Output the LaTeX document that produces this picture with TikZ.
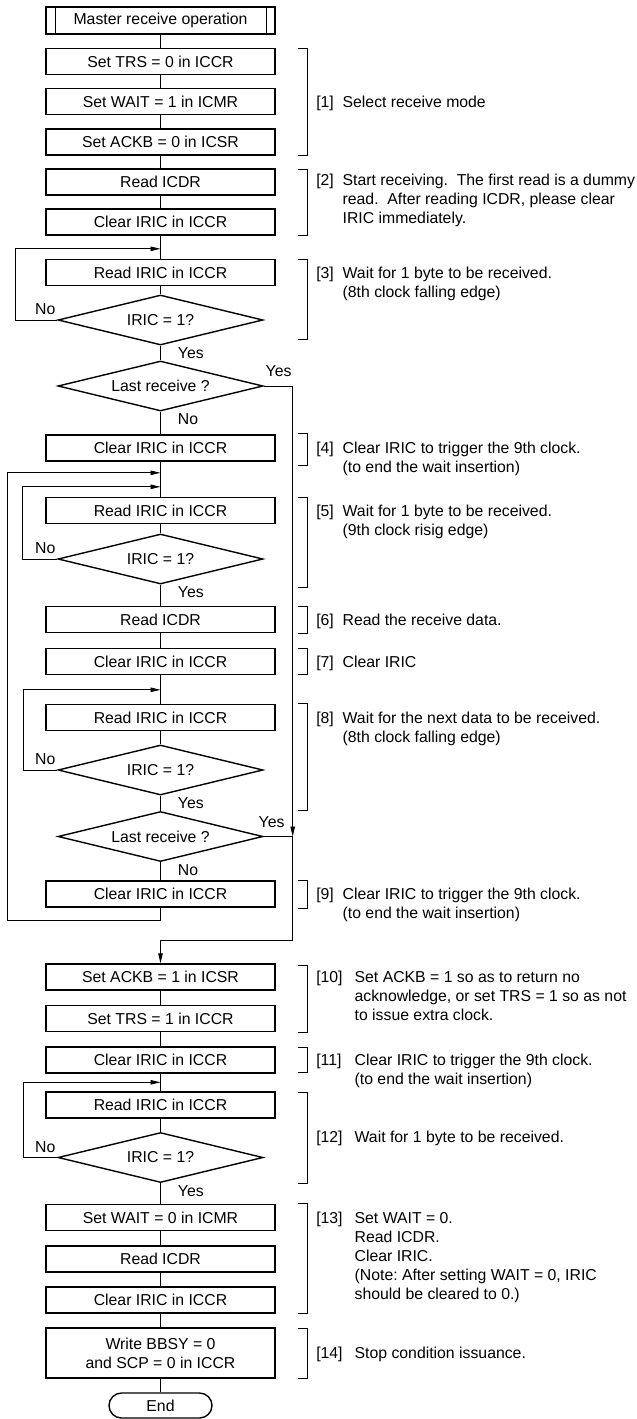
\documentclass[tikz,border=0pt]{standalone}
\usepackage{fontspec}
\setmainfont{Liberation Sans}
\usetikzlibrary{shapes.geometric,positioning,arrows.meta}

\newcommand{\steptxt}[3][26.4pt]{\makebox[#1][l]{#2}\begin{tabular}[t]{@{}l@{}}#3\end{tabular}}

\begin{document}
\begin{tikzpicture}[x=1pt,y=-1pt,on grid,
    font=\fontsize{15.8}{19}\selectfont\frenchspacing,
    >={Triangle[length=10pt,width=4.5pt]},line width=0.9pt,
    proc/.style={draw,rectangle,line width=1.4pt,minimum width=229pt,minimum height=26pt,inner sep=0pt},
    hdr/.style={proc,minimum height=27pt,
      path picture={\draw[line width=1pt]
        ([xshift=9pt]path picture bounding box.north west) -- ([xshift=9pt]path picture bounding box.south west)
        ([xshift=-9pt]path picture bounding box.north east) -- ([xshift=-9pt]path picture bounding box.south east);}},
    dec/.style={draw,diamond,aspect=4.1,line width=1.4pt,minimum width=205pt,minimum height=50pt,inner sep=0pt},
    term/.style={draw,rectangle,rounded corners=12.5pt,line width=1.4pt,minimum width=103pt,minimum height=25pt,inner sep=0pt},
    note/.style={anchor=base west,inner sep=0pt},
    lbl/.style={inner sep=1.5pt},
    brk/.style={line width=0.9pt}]
    \useasboundingbox (0,0) rectangle (637,1419);

    % main column
    \node[hdr]  (hdr)     at (160.5,20.5)           {Master receive operation};
    \node[proc] (trs0)    [below=41pt of hdr]       {Set TRS = 0 in ICCR};
    \node[proc] (wait1)   [below=40pt of trs0]      {Set WAIT = 1 in ICMR};
    \node[proc] (ackb0)   [below=40.5pt of wait1]   {Set ACKB = 0 in ICSR};
    \node[proc] (rd1)     [below=40pt of ackb0]     {Read ICDR};
    \node[proc] (clr1)    [below=40pt of rd1]       {Clear IRIC in ICCR};
    \node[proc] (rdiric1) [below=50.5pt of clr1]    {Read IRIC in ICCR};
    \node[dec]  (dec1)    [below=47.5pt of rdiric1] {IRIC = 1?};
    \node[dec]  (last1)   [below=66pt of dec1]      {Last receive ?};
    \node[proc] (clr2)    [below=62pt of last1]     {Clear IRIC in ICCR};
    \node[proc] (rdiric2) [below=62.5pt of clr2]    {Read IRIC in ICCR};
    \node[dec]  (dec2)    [below=48.5pt of rdiric2] {IRIC = 1?};
    \node[proc] (rd2)     [below=60.5pt of dec2]    {Read ICDR};
    \node[proc] (clr3)    [below=42pt of rd2]       {Clear IRIC in ICCR};
    \node[proc] (rdiric3) [below=56pt of clr3]      {Read IRIC in ICCR};
    \node[dec]  (dec3)    [below=52.5pt of rdiric3] {IRIC = 1?};
    \node[dec]  (last2)   [below=66.5pt of dec3]    {Last receive ?};
    \node[proc] (clr4)    [below=57.5pt of last2]   {Clear IRIC in ICCR};
    \node[proc] (ackb1)   [below=83pt of clr4]      {Set ACKB = 1 in ICSR};
    \node[proc] (trs1)    [below=41.5pt of ackb1]   {Set TRS = 1 in ICCR};
    \node[proc] (clr5)    [below=41.5pt of trs1]    {Clear IRIC in ICCR};
    \node[proc] (rdiric4) [below=45pt of clr5]      {Read IRIC in ICCR};
    \node[dec]  (dec4)    [below=52.5pt of rdiric4] {IRIC = 1?};
    \node[proc] (wait0)   [below=60pt of dec4]      {Set WAIT = 0 in ICMR};
    \node[proc] (rd3)     [below=41.5pt of wait0]   {Read ICDR};
    \node[proc] (clr6)    [below=41pt of rd3]       {Clear IRIC in ICCR};
    \node[proc,minimum height=50pt,align=center] (bbsy) [below=53pt of clr6] {Write BBSY = 0\\and SCP = 0 in ICCR};
    \node[term] (stop)    [below=52.5pt of bbsy]    {End};

    % branch labels
    \node[lbl,anchor=south east] at ([yshift=3pt]dec1.west)      {No};
    \node[lbl,anchor=north west] at ([xshift=15.5pt]dec1.south)  {Yes};
    \node[lbl,anchor=south west] at ([yshift=7pt]last1.east)     {Yes};
    \node[lbl,anchor=north west] at ([xshift=15.5pt]last1.south) {No};
    \node[lbl,anchor=south east] at ([yshift=3pt]dec2.west)      {No};
    \node[lbl,anchor=north west] at ([xshift=15.5pt]dec2.south)  {Yes};
    \node[lbl,anchor=south east] at ([yshift=3pt]dec3.west)      {No};
    \node[lbl,anchor=north west] at ([xshift=15.5pt]dec3.south)  {Yes};
    \node[lbl,anchor=south west] at ([xshift=-7pt,yshift=7pt]last2.east) {Yes};
    \node[lbl,anchor=north west] at ([xshift=15.5pt]last2.south) {No};
    \node[lbl,anchor=south east] at ([yshift=3pt]dec4.west)      {No};
    \node[lbl,anchor=north west] at ([xshift=15.5pt]dec4.south)  {Yes};

    % straight flow
    \draw (hdr) -- (trs0) -- (wait1) -- (ackb0) -- (rd1) -- (clr1) -- (rdiric1) -- (dec1)
      -- (last1) -- (clr2) -- (rdiric2) -- (dec2) -- (rd2) -- (clr3) -- (rdiric3) -- (dec3)
      -- (last2) -- (clr4);
    \draw (ackb1) -- (trs1) -- (clr5) -- (rdiric4) -- (dec4) -- (wait0) -- (rd3) -- (clr6)
      -- (bbsy) -- (stop);

    % loops back
    \coordinate[above=10pt of rdiric1.north] (in1);
    \coordinate[above=24pt of rdiric2.north] (in2o);
    \coordinate[above=10pt of rdiric2.north] (in2i);
    \coordinate[above=14pt of rdiric3.north] (in3);
    \coordinate[above=9pt of rdiric4.north]  (in4);
    \draw[->] (dec1.west) -- ++(-42,0) |- (in1);
    \draw[->] (dec2.west) -- ++(-35,0) |- (in2i);
    \draw[->] (clr4.south) -- ++(0,13) -- ++(-153,0) |- (in2o);
    \draw[->] (dec3.west) -- ++(-34,0) |- (in3);
    \draw[->] (dec4.west) -- ++(-34,0) |- (in4);

    % last receive
    \coordinate[above=23pt of ackb1.north] (j5);
    \draw[->] (last1.east) -- ++(29,0) coordinate (ry) -- (ry |- last2.east);
    \draw[->] (last2.east) -- (ry |- last2.east) |- (j5) -- (ackb1.north);

    % brackets
    \foreach \t/\b in {48/155,169/235,259/339,433/465,497/587,606/633,648/674,
                       703/810,880/908,965/1032,1047/1072,1092/1183,1203/1313,1328/1378}
      \draw[brk] (298,\t) -| (307,\b) -- (298,\b);

    % notes
    \node[note] at (315.8,107.6)  {\steptxt{[1]}{Select receive mode}};
    \node[note] at (315.8,185.6)  {\steptxt{[2]}{Start receiving.~~The first read is a dummy\\
                                   read.~~After reading ICDR, please clear\\IRIC immediately.}};
    \node[note] at (315.8,278.1)  {\steptxt{[3]}{Wait for 1 byte to be received.\\(8th clock falling edge)}};
    \node[note] at (315.8,453.6)  {\steptxt{[4]}{Clear IRIC to trigger the 9th clock.\\(to end the wait insertion)}};
    \node[note] at (315.8,516.1)  {\steptxt{[5]}{Wait for 1 byte to be received.\\(9th clock risig edge)}};
    \node[note] at (315.8,625.1)  {\steptxt{[6]}{Read the receive data.}};
    \node[note] at (315.8,667.1)  {\steptxt{[7]}{Clear IRIC}};
    \node[note] at (315.8,723.1)  {\steptxt{[8]}{Wait for the next data to be received.\\(8th clock falling edge)}};
    \node[note] at (315.8,899.6)  {\steptxt{[9]}{Clear IRIC to trigger the 9th clock.\\(to end the wait insertion)}};
    \node[note] at (315.8,982.6)  {\steptxt[38.4pt]{[10]}{Set ACKB = 1 so as to return no\\
                                   acknowledge, or set TRS = 1 so as not\\to issue extra clock.}};
    \node[note] at (315.8,1065.6) {\steptxt[38.4pt]{[11]}{Clear IRIC to trigger the 9th clock.\\(to end the wait insertion)}};
    \node[note] at (315.8,1142.6) {\steptxt[38.4pt]{[12]}{Wait for 1 byte to be received.}};
    \node[note] at (315.8,1223.1) {\steptxt[38.4pt]{[13]}{Set WAIT = 0.\\Read ICDR.\\Clear IRIC.\\
                                   (Note: After setting WAIT = 0, IRIC\\should be cleared to 0.)}};
    \node[note] at (315.8,1358.6) {\steptxt[38.4pt]{[14]}{Stop condition issuance.}};
\end{tikzpicture}
\end{document}
